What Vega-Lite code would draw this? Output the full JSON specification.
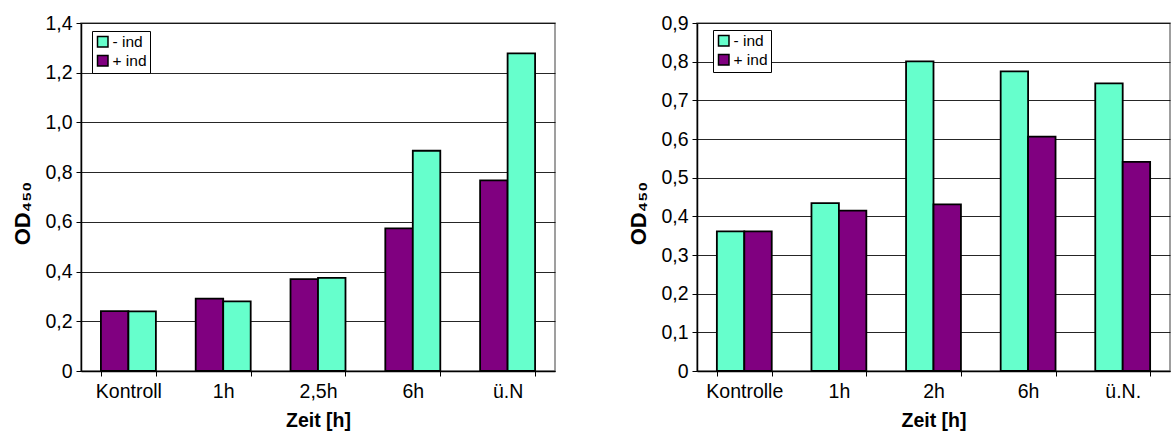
{
  "$schema": "https://vega.github.io/schema/vega-lite/v6.json",
  "background": "white",
  "padding": {"left": 10, "top": 12, "right": 0, "bottom": 0},
  "spacing": 70,
  "config": {
    "font": "Liberation Sans",
    "view": {"stroke": "#808080", "strokeWidth": 1.5},
    "axis": {
      "labelFont": "Liberation Sans",
      "labelFontSize": 19.5,
      "labelColor": "black",
      "titleFont": "Liberation Sans",
      "titleFontSize": 19.5,
      "titleFontWeight": "bold",
      "titleColor": "black",
      "domainColor": "black",
      "domainWidth": 1.5,
      "tickColor": "black",
      "tickSize": 5,
      "gridColor": "black",
      "gridOpacity": 0.85
    },
    "legend": {
      "strokeColor": "black",
      "fillColor": "white",
      "padding": 3,
      "rowPadding": 1,
      "symbolType": "square",
      "symbolSize": 110,
      "symbolStrokeColor": "black",
      "symbolStrokeWidth": 1.5,
      "symbolOpacity": 1,
      "labelFont": "Liberation Sans",
      "labelFontSize": 15.5,
      "labelColor": "black",
      "labelOffset": 2
    }
  },
  "resolve": {
    "scale": {"color": "independent", "y": "independent", "x": "independent", "xOffset": "independent"},
    "legend": {"color": "independent"}
  },
  "hconcat": [
    {
      "width": 474,
      "height": 348,
      "data": {
        "values": [
          {"Zeit": "Kontroll", "Gruppe": "+ ind", "OD": 0.241},
          {"Zeit": "Kontroll", "Gruppe": "- ind", "OD": 0.240},
          {"Zeit": "1h", "Gruppe": "+ ind", "OD": 0.291},
          {"Zeit": "1h", "Gruppe": "- ind", "OD": 0.280},
          {"Zeit": "2,5h", "Gruppe": "+ ind", "OD": 0.370},
          {"Zeit": "2,5h", "Gruppe": "- ind", "OD": 0.375},
          {"Zeit": "6h", "Gruppe": "+ ind", "OD": 0.574},
          {"Zeit": "6h", "Gruppe": "- ind", "OD": 0.886},
          {"Zeit": "ü.N", "Gruppe": "+ ind", "OD": 0.767},
          {"Zeit": "ü.N", "Gruppe": "- ind", "OD": 1.278}
        ]
      },
      "mark": {"type": "bar", "stroke": "black", "strokeWidth": 1.8},
      "encoding": {
        "x": {
          "field": "Zeit",
          "type": "nominal",
          "sort": ["Kontroll", "1h", "2,5h", "6h", "ü.N"],
          "scale": {"paddingInner": 0.42, "paddingOuter": 0.21},
          "axis": {"title": "Zeit [h]", "labelAngle": 0, "tickBand": "extent", "labelPadding": 6, "titlePadding": 11}
        },
        "xOffset": {
          "field": "Gruppe",
          "type": "nominal",
          "scale": {"domain": ["+ ind", "- ind"], "paddingInner": 0, "paddingOuter": 0}
        },
        "y": {
          "field": "OD",
          "type": "quantitative",
          "scale": {"domain": [0, 1.4], "nice": false},
          "axis": {
            "values": [0, 0.2, 0.4, 0.6, 0.8, 1.0, 1.2, 1.4],
            "labelExpr": "datum.value == 0 ? '0' : replace(format(datum.value, '.1f'), '.', ',')",
            "labelPadding": 4,
            "title": "OD₄₅₀",
            "titleFontSize": 22,
            "titleAngle": -90,
            "titleAlign": "center",
            "titleBaseline": "middle",
            "titleX": -59,
            "titleY": 190
          }
        },
        "color": {
          "field": "Gruppe",
          "type": "nominal",
          "scale": {"domain": ["- ind", "+ ind"], "range": ["#66FFCC", "#800080"]},
          "legend": {"title": null, "orient": "none", "legendX": 11, "legendY": 8}
        }
      }
    },
    {
      "width": 473,
      "height": 348,
      "data": {
        "values": [
          {"Zeit": "Kontrolle", "Gruppe": "- ind", "OD": 0.361},
          {"Zeit": "Kontrolle", "Gruppe": "+ ind", "OD": 0.361},
          {"Zeit": "1h", "Gruppe": "- ind", "OD": 0.434},
          {"Zeit": "1h", "Gruppe": "+ ind", "OD": 0.415},
          {"Zeit": "2h", "Gruppe": "- ind", "OD": 0.801},
          {"Zeit": "2h", "Gruppe": "+ ind", "OD": 0.431},
          {"Zeit": "6h", "Gruppe": "- ind", "OD": 0.775},
          {"Zeit": "6h", "Gruppe": "+ ind", "OD": 0.606},
          {"Zeit": "ü.N.", "Gruppe": "- ind", "OD": 0.744},
          {"Zeit": "ü.N.", "Gruppe": "+ ind", "OD": 0.541}
        ]
      },
      "mark": {"type": "bar", "stroke": "black", "strokeWidth": 1.8},
      "encoding": {
        "x": {
          "field": "Zeit",
          "type": "nominal",
          "sort": ["Kontrolle", "1h", "2h", "6h", "ü.N."],
          "scale": {"paddingInner": 0.42, "paddingOuter": 0.21},
          "axis": {"title": "Zeit [h]", "labelAngle": 0, "tickBand": "extent", "labelPadding": 6, "titlePadding": 11}
        },
        "xOffset": {
          "field": "Gruppe",
          "type": "nominal",
          "scale": {"domain": ["- ind", "+ ind"], "paddingInner": 0, "paddingOuter": 0}
        },
        "y": {
          "field": "OD",
          "type": "quantitative",
          "scale": {"domain": [0, 0.9], "nice": false},
          "axis": {
            "values": [0, 0.1, 0.2, 0.3, 0.4, 0.5, 0.6, 0.7, 0.8, 0.9],
            "labelExpr": "datum.value == 0 ? '0' : replace(format(datum.value, '.1f'), '.', ',')",
            "labelPadding": 4,
            "title": "OD₄₅₀",
            "titleFontSize": 22,
            "titleAngle": -90,
            "titleAlign": "center",
            "titleBaseline": "middle",
            "titleX": -59,
            "titleY": 190
          }
        },
        "color": {
          "field": "Gruppe",
          "type": "nominal",
          "scale": {"domain": ["- ind", "+ ind"], "range": ["#66FFCC", "#800080"]},
          "legend": {"title": null, "orient": "none", "legendX": 16, "legendY": 7}
        }
      }
    }
  ]
}
